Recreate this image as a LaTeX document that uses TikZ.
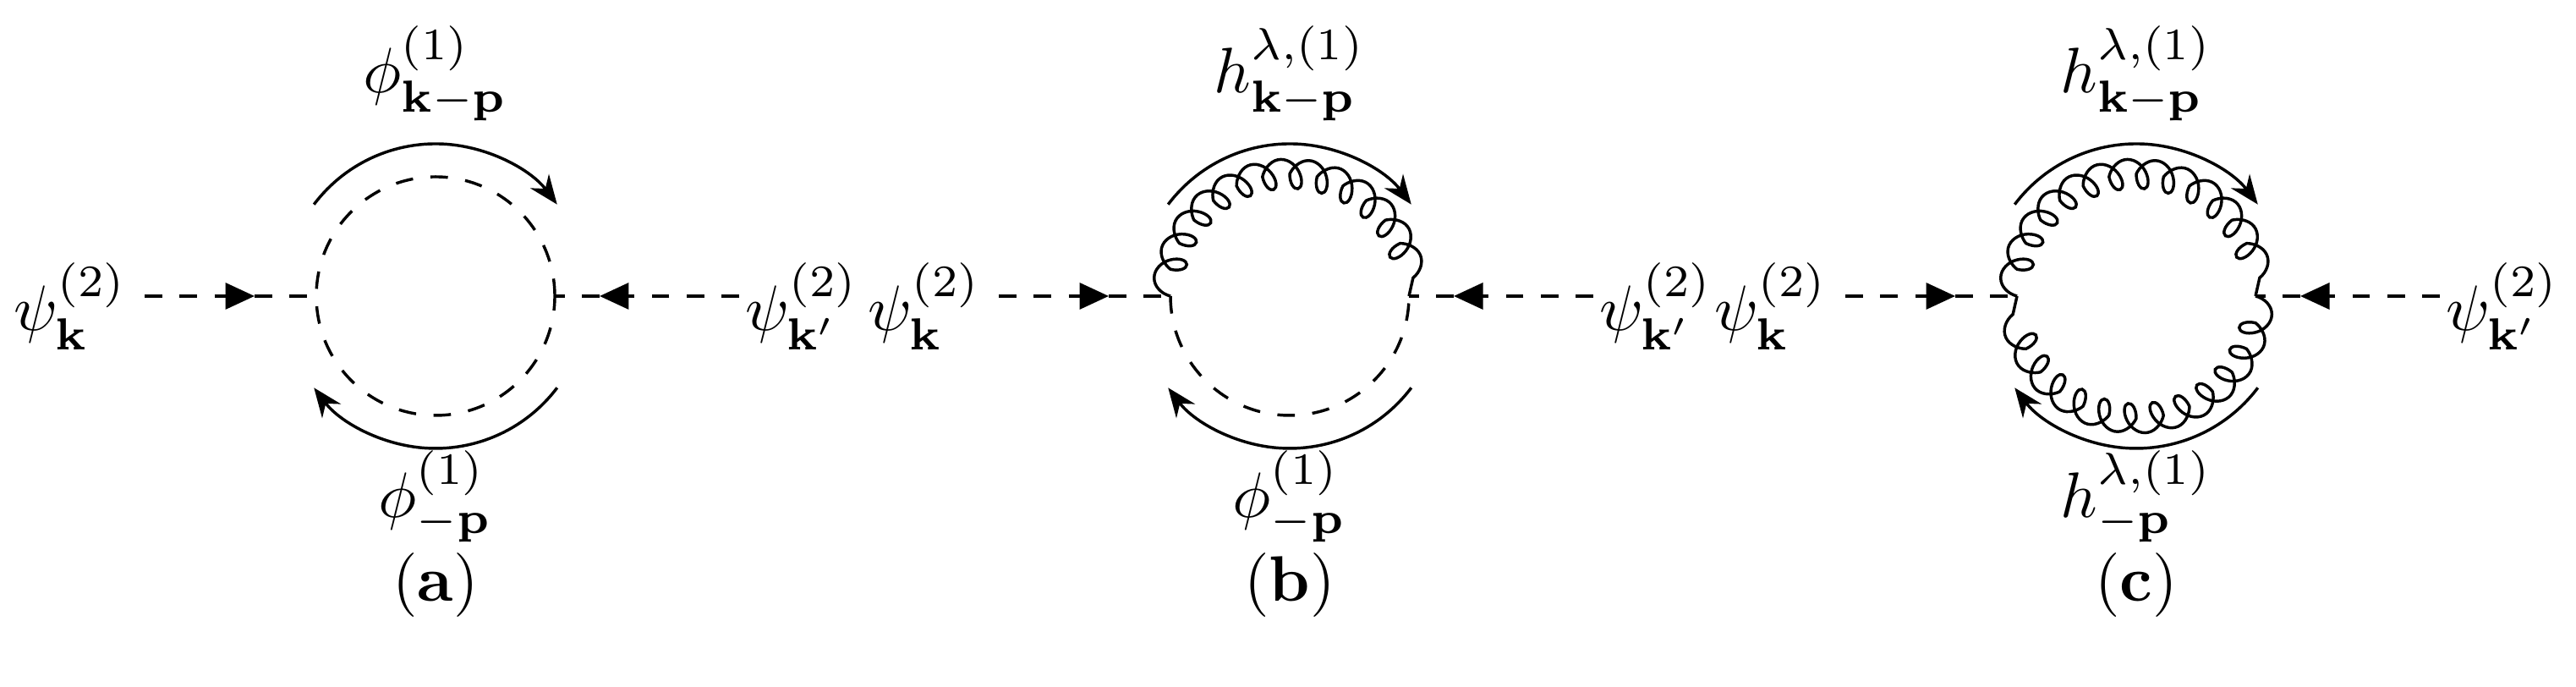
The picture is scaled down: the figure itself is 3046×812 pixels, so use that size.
\documentclass[tikz,border=0pt]{standalone}
\usetikzlibrary{arrows.meta,decorations.pathmorphing}
\begin{document}
\begin{tikzpicture}[x=0.145pt,y=0.145pt,
  scal/.style={line width=0.5pt,dash pattern=on 3pt off 3pt},
  tip/.style={-{Triangle[length=5pt,width=4.5pt]}},
  mom/.style={line width=0.5pt,-{Stealth[length=5pt,width=4pt]}},
  glu/.style={line width=0.5pt,decorate,decoration={coil,aspect=0.7,amplitude=2.8pt,segment length=4.6pt}},
  lab/.style={inner sep=0pt,scale=1.1}]
\useasboundingbox (0,0) rectangle (3046,812);
\foreach \n/\cx in {a/515,b/1525,c/2526}{
  \coordinate (C\n) at (\cx,462);
  \coordinate (L\n) at (\cx-141,462);
  \coordinate (R\n) at (\cx+141,462);
  \coordinate (s\n) at (\cx-344,462);
  \coordinate (t\n) at (\cx-214,462);
  \coordinate (e\n) at (\cx+359,462);
  \coordinate (u\n) at (\cx+194,462);
  \draw[scal,tip] (s\n) -- (t\n);
  \draw[scal] (t\n) -- (L\n);
  \draw[scal,tip] (e\n) -- (u\n);
  \draw[scal] (u\n) -- (R\n);
  \draw[mom] (C\n) ++(143:180) arc (143:37:180);
  \draw[mom] (C\n) ++(-37:180) arc (-37:-143:180);
  \node[lab] (pk\n) at (\cx-432,450) {$\psi^{(2)}_{\mathbf k}$};
  \node[lab] (pq\n) at (\cx+433,450) {$\psi^{(2)}_{\mathbf k'}$};
  \node[lab] (cap\n) at (\cx,120) {(\textbf{\n})};
}
% (a)
\draw[scal] (Ca) circle (141);
\node[lab] (ta) at (515,725) {$\phi^{(1)}_{\mathbf k-\mathbf p}$};
\node[lab] (ba) at (515,225) {$\phi^{(1)}_{-\mathbf p}$};
% (b)
\draw[glu] (Lb) arc (180:0:141);
\draw[scal] (Lb) arc (180:360:141);
\node[lab] (tb) at (1525,725) {$h^{\lambda,(1)}_{\mathbf k-\mathbf p}$};
\node[lab] (bb) at (1525,225) {$\phi^{(1)}_{-\mathbf p}$};
% (c)
\draw[glu] (Lc) arc (180:0:141);
\draw[glu] (Rc) arc (0:-180:141);
\node[lab] (tc) at (2526,725) {$h^{\lambda,(1)}_{\mathbf k-\mathbf p}$};
\node[lab] (bc) at (2526,225) {$h^{\lambda,(1)}_{-\mathbf p}$};
\end{tikzpicture}
\end{document}
